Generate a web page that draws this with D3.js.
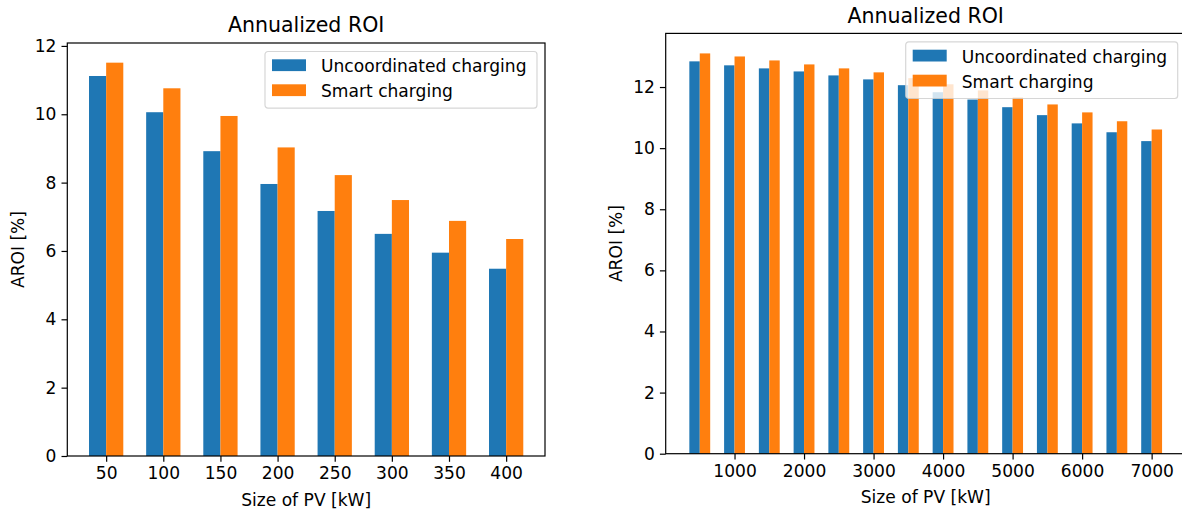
<!DOCTYPE html>
<html>
<head>
<meta charset="utf-8">
<script src="https://cdn.jsdelivr.net/npm/d3@7"></script>
<style>
  body { margin: 0; background: #fff; }
  text { font-family: "DejaVu Sans", sans-serif; fill: #000; }
</style>
</head>
<body>
<div id="chart"></div>
<script>
// left panel data
const pvSmall = [50, 100, 150, 200, 250, 300, 350, 400];
const uncoordSmall = [11.12, 10.06, 8.92, 7.96, 7.17, 6.50, 5.95, 5.48];
const smartSmall = [11.51, 10.76, 9.95, 9.03, 8.22, 7.49, 6.88, 6.35];

// right panel data
const pvLarge = [500, 1000, 1500, 2000, 2500, 3000, 3500, 4000, 4500, 5000, 5500, 6000, 6500, 7000];
const uncoordLarge = [12.84, 12.71, 12.61, 12.51, 12.38, 12.25, 12.06, 11.83, 11.59, 11.34, 11.08, 10.81, 10.52, 10.23];
const smartLarge = [13.10, 13.00, 12.87, 12.74, 12.61, 12.48, 12.29, 12.09, 11.89, 11.66, 11.43, 11.17, 10.88, 10.61];

const xTicksSmall = [50, 100, 150, 200, 250, 300, 350, 400];
const xTicksLarge = [1000, 2000, 3000, 4000, 5000, 6000, 7000];
const yTicks = [0, 2, 4, 6, 8, 10, 12];

const seriesNames = ["Uncoordinated charging", "Smart charging"];
const colors = ["#1f77b4", "#ff7f0e"];

const svg = d3.select("#chart")
  .append("svg")
  .attr("width", 1182)
  .attr("height", 512);

function drawPanel(opt) {
  const { left, right, top, bottom, xs, a, b, barW, xTicks, fs } = opt;

  // matplotlib style 5% margins around the bars
  const x0 = d3.min(xs) - barW, x1 = d3.max(xs) + barW;
  const pad = (x1 - x0) * 0.05;
  const x = d3.scaleLinear().domain([x0 - pad, x1 + pad]).range([left, right]);
  const ymax = d3.max(a.concat(b)) * 1.05;
  const y = d3.scaleLinear().domain([0, ymax]).range([bottom, top]);

  const g = svg.append("g");

  g.selectAll(".barA")
    .data(xs)
    .join("rect")
      .attr("x", (d) => x(d - barW))
      .attr("width", (d) => x(d) - x(d - barW))
      .attr("y", (d, i) => y(a[i]))
      .attr("height", (d, i) => y(0) - y(a[i]))
      .attr("fill", colors[0]);

  g.selectAll(".barB")
    .data(xs)
    .join("rect")
      .attr("x", (d) => x(d))
      .attr("width", (d) => x(d + barW) - x(d))
      .attr("y", (d, i) => y(b[i]))
      .attr("height", (d, i) => y(0) - y(b[i]))
      .attr("fill", colors[1]);

  // axes
  const xAxis = d3.axisBottom(x).tickValues(xTicks).tickSize(5.8).tickPadding(5).tickFormat(d3.format("d"));
  const yAxis = d3.axisLeft(y).tickValues(yTicks).tickSize(5.8).tickPadding(5).tickFormat(d3.format("d"));

  const gx = g.append("g")
    .attr("transform", `translate(0,${bottom})`)
    .call(xAxis);
  const gy = g.append("g")
    .attr("transform", `translate(${left},0)`)
    .call(yAxis);

  [gx, gy].forEach((ax) => {
    ax.select(".domain").remove();
    ax.selectAll(".tick line").attr("stroke", "#000").attr("stroke-width", 1.2);
    ax.selectAll(".tick text")
      .style("font-family", "DejaVu Sans")
      .style("font-size", fs + "px")
      .attr("fill", "#000");
  });
  gx.selectAll(".tick text").attr("dy", "0.74em");

  // frame
  g.append("rect")
    .attr("x", left)
    .attr("y", top)
    .attr("width", right - left)
    .attr("height", bottom - top)
    .attr("fill", "none")
    .attr("stroke", "#000")
    .attr("stroke-width", 1.2);

  // title and labels
  g.append("text")
    .attr("x", (left + right) / 2)
    .attr("y", opt.titleY)
    .attr("text-anchor", "middle")
    .style("font-size", fs * 1.2 + "px")
    .text("Annualized ROI");

  g.append("text")
    .attr("x", (left + right) / 2)
    .attr("y", opt.xLabelY)
    .attr("text-anchor", "middle")
    .style("font-size", fs + "px")
    .text("Size of PV [kW]");

  g.append("text")
    .attr("transform", `translate(${opt.yLabelX},${(top + bottom) / 2}) rotate(-90)`)
    .attr("text-anchor", "middle")
    .style("font-size", fs + "px")
    .text("AROI [%]");

  // legend, upper right
  const lw = 272, lh = 56.6;
  const lx = right - 8 - lw, ly = top + 8.5;
  const leg = g.append("g").attr("transform", `translate(${lx},${ly})`);
  leg.append("rect")
    .attr("width", lw)
    .attr("height", lh)
    .attr("rx", 3)
    .attr("fill", "#fff")
    .attr("fill-opacity", 0.8)
    .attr("stroke", "#cccccc")
    .attr("stroke-opacity", 0.8)
    .attr("stroke-width", 1.2);

  const rows = leg.selectAll(".row")
    .data(seriesNames)
    .join("g")
      .attr("transform", (d, i) => `translate(0,${i * 25})`);
  rows.append("rect")
    .attr("x", 7)
    .attr("y", 7.8)
    .attr("width", 34)
    .attr("height", 11.8)
    .attr("fill", (d, i) => colors[i]);
  rows.append("text")
    .attr("x", 56)
    .attr("y", 20.8)
    .style("font-size", fs + "px")
    .text((d) => d);
}

drawPanel({
  left: 67.3, right: 545, top: 43, bottom: 456,
  xs: pvSmall, a: uncoordSmall, b: smartSmall, barW: 15,
  xTicks: xTicksSmall, fs: 17.1,
  titleY: 32, xLabelY: 506, yLabelX: 23.5
});

drawPanel({
  left: 665.7, right: 1185.7, top: 33.4, bottom: 453.7,
  xs: pvLarge, a: uncoordLarge, b: smartLarge, barW: 150,
  xTicks: xTicksLarge, fs: 17.1,
  titleY: 23.3, xLabelY: 502.5, yLabelX: 621.7
});
</script>
</body>
</html>
